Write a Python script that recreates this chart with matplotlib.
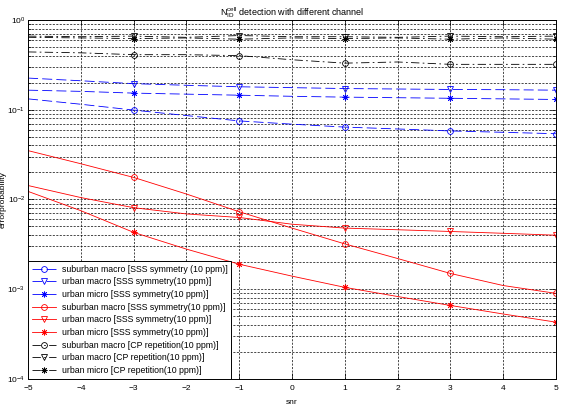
import matplotlib

matplotlib.use("Agg")
import matplotlib.pyplot as plt
import numpy as np

plt.rcParams["font.family"] = ["Liberation Sans", "DejaVu Sans"]
plt.rcParams["mathtext.fontset"] = "custom"
plt.rcParams["mathtext.rm"] = "Liberation Sans"

snr = np.arange(-5, 6)

# SSS symmetry, blue
blue_suburban_macro = [0.132, 0.115, 0.099, 0.086, 0.075, 0.069, 0.064, 0.061, 0.058, 0.056, 0.054]
blue_urban_macro = [0.225, 0.21, 0.195, 0.187, 0.18, 0.176, 0.172, 0.17, 0.168, 0.167, 0.165]
blue_urban_micro = [0.165, 0.16, 0.153, 0.149, 0.145, 0.141, 0.138, 0.136, 0.134, 0.132, 0.13]

# SSS symmetry, red
red_suburban_macro = [0.035, 0.025, 0.0176, 0.0115, 0.0073, 0.0048, 0.0032, 0.0022, 0.0015, 0.0011, 0.0009]
red_urban_macro = [0.0143, 0.0105, 0.0081, 0.0069, 0.0063, 0.0053, 0.0048, 0.0046, 0.0044, 0.0042, 0.004]
red_urban_micro = [0.0123, 0.0075, 0.0043, 0.0028, 0.0019, 0.0014, 0.00105, 0.00083, 0.00066, 0.00053, 0.00043]

# CP repetition, black
blk_suburban_macro = [0.44, 0.43, 0.41, 0.41, 0.40, 0.36, 0.33, 0.34, 0.32, 0.32, 0.32]
blk_urban_macro = [0.66, 0.65, 0.66, 0.64, 0.67, 0.65, 0.65, 0.64, 0.66, 0.65, 0.66]
blk_urban_micro = [0.64, 0.63, 0.62, 0.63, 0.61, 0.63, 0.62, 0.63, 0.61, 0.63, 0.61]

labels = [
    "suburban macro [SSS symmetry (10 ppm)]",
    "urban macro [SSS symmetry(10 ppm)]",
    "urban micro [SSS symmetry(10 ppm)]",
    "suburban macro [SSS symmetry(10 ppm)]",
    "urban macro [SSS symmetry(10 ppm)]",
    "urban micro [SSS symmetry(10 ppm)]",
    "suburban macro [CP repetition(10 ppm)]",
    "urban macro [CP repetition(10 ppm)]",
    "urban micro [CP repetition(10 ppm)]",
]
series = [
    blue_suburban_macro, blue_urban_macro, blue_urban_micro,
    red_suburban_macro, red_urban_macro, red_urban_micro,
    blk_suburban_macro, blk_urban_macro, blk_urban_micro,
]
colors = ["blue"] * 3 + ["red"] * 3 + ["black"] * 3
styles = [(0, (12, 5))] * 3 + ["-"] * 3 + [(0, (10, 4, 2, 4))] * 3
asterisk = (8, 2, 0)
markers = ["o", "v", asterisk] * 3

fig = plt.figure(figsize=(5.61, 4.09), dpi=100)
ax = fig.add_axes([0.05, 0.0733, 0.941, 0.878])

for y, lab, c, ls, m in zip(series, labels, colors, styles, markers):
    ax.semilogy(snr, y, color=c, linestyle=ls, linewidth=0.6, marker=m,
                markersize=4.2, markerfacecolor="none", markeredgecolor=c,
                markeredgewidth=0.6, markevery=slice(2, None, 2), label=lab)

ax.set_xlim(-5, 5)
ax.set_ylim(1e-4, 1)
ax.set_xticks(np.arange(-5, 6))
ax.grid(True, which="major", axis="both", color="black", linestyle=(0, (3, 2)), linewidth=0.5)
ax.grid(True, which="minor", axis="y", color="black", linestyle=(0, (3, 2)), linewidth=0.5)
ax.tick_params(which="both", direction="in", top=True, right=True, labelsize=6, width=0.5, pad=2)
ax.tick_params(axis="x", pad=4)
ax.tick_params(which="major", length=4)
ax.tick_params(which="minor", length=2)
for s in ax.spines.values():
    s.set_linewidth(0.7)

ax.set_xlabel("snr", fontsize=6)
ax.xaxis.set_label_coords(0.5, -0.055)
ax.set_ylabel("errorprobability", fontsize=6)
ax.yaxis.set_label_coords(-0.041, 0.5)
ax.set_title(r"$\mathrm{N_{ID}^{cell}}$ detection with different channel", fontsize=6.5, pad=3)

leg = ax.legend(loc="lower left", fontsize=6.3, borderaxespad=0, frameon=True,
                fancybox=False, edgecolor="black", framealpha=1,
                handlelength=2.8, handletextpad=0.6, labelspacing=0.42, borderpad=0.45)
leg.get_frame().set_linewidth(0.7)

fig.savefig("out.png", dpi=100)
